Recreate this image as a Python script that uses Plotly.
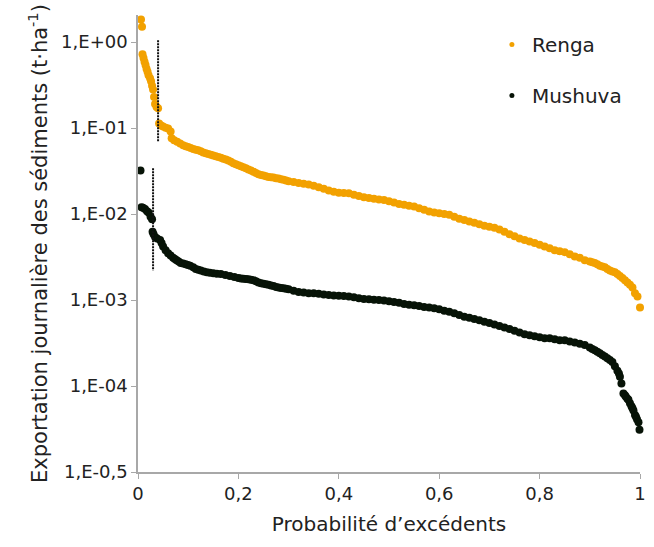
import plotly.graph_objects as go

# ---- data ----
renga_p = [0.006, 0.008, 0.009, 0.011, 0.013, 0.015, 0.017, 0.019, 0.021, 0.024,
           0.026, 0.028, 0.030, 0.032, 0.034, 0.037, 0.040, 0.042, 0.046, 0.050,
           0.055, 0.060, 0.065, 0.067, 0.072, 0.078, 0.084, 0.09, 0.095, 0.10,
           0.105, 0.11, 0.115, 0.12, 0.125, 0.13, 0.135, 0.14, 0.145, 0.15,
           0.155, 0.16, 0.165, 0.17, 0.175, 0.18, 0.185, 0.19, 0.195, 0.20,
           0.205, 0.21, 0.215, 0.22, 0.225, 0.23, 0.235, 0.24, 0.245, 0.25,
           0.255, 0.26, 0.265, 0.27, 0.275, 0.28, 0.285, 0.29, 0.295, 0.30,
           0.31, 0.32, 0.33, 0.34, 0.35, 0.36, 0.37, 0.38, 0.39, 0.40,
           0.41, 0.42, 0.43, 0.44, 0.45, 0.46, 0.47, 0.48, 0.49, 0.50,
           0.51, 0.52, 0.53, 0.54, 0.55, 0.56, 0.57, 0.58, 0.59, 0.60,
           0.61, 0.62, 0.63, 0.64, 0.65, 0.66, 0.67, 0.68, 0.69, 0.70,
           0.71, 0.72, 0.73, 0.74, 0.75, 0.76, 0.77, 0.78, 0.79, 0.80,
           0.81, 0.82, 0.83, 0.84, 0.85, 0.86, 0.87, 0.88, 0.89, 0.90,
           0.905, 0.91, 0.915, 0.92, 0.925, 0.93, 0.935, 0.94, 0.945, 0.95,
           0.955, 0.96, 0.965, 0.97, 0.975, 0.98, 0.985, 0.99, 0.995, 1.0]
renga_v = [1.83, 1.5, 0.72, 0.65, 0.59, 0.54, 0.49, 0.45, 0.41, 0.38,
           0.35, 0.31, 0.28, 0.23, 0.19, 0.175, 0.17, 0.113, 0.107, 0.104,
           0.101, 0.099, 0.091, 0.076, 0.072, 0.069, 0.066, 0.063, 0.0615, 0.060,
           0.0585, 0.057, 0.056, 0.055, 0.0535, 0.052, 0.051, 0.050, 0.049, 0.048,
           0.047, 0.046, 0.045, 0.044, 0.043, 0.042, 0.0405, 0.039, 0.038, 0.037,
           0.036, 0.035, 0.034, 0.033, 0.032, 0.031, 0.030, 0.029, 0.0285, 0.028,
           0.0275, 0.027, 0.0267, 0.0265, 0.0261, 0.0258, 0.0254, 0.025, 0.0245, 0.024,
           0.0235, 0.023, 0.0225, 0.022, 0.0213, 0.0205, 0.0196, 0.0188, 0.0182, 0.0177,
           0.0176, 0.0174, 0.0168, 0.0162, 0.0157, 0.0153, 0.0150, 0.0147, 0.0145, 0.0141,
           0.0136, 0.0131, 0.0128, 0.0125, 0.0122, 0.0117, 0.0112, 0.0107, 0.0104, 0.0102,
           0.0100, 0.0098, 0.0093, 0.0088, 0.0085, 0.0082, 0.0079, 0.0076, 0.0073, 0.0071,
           0.0069, 0.0066, 0.0062, 0.0058, 0.0055, 0.0052, 0.0050, 0.0048, 0.0046, 0.0044,
           0.0042, 0.0040, 0.0038, 0.0037, 0.0036, 0.0034, 0.0032, 0.0031, 0.0029, 0.0028,
           0.00275, 0.0027, 0.0026, 0.0025, 0.00245, 0.0024, 0.0023, 0.0022, 0.00215, 0.0021,
           0.0020, 0.0019, 0.0018, 0.0017, 0.0016, 0.0015, 0.0014, 0.0012, 0.0011, 0.00082]

mushuva_p = [0.005, 0.007, 0.010, 0.014, 0.018, 0.021, 0.025, 0.028, 0.029, 0.031,
             0.034, 0.038, 0.044, 0.047, 0.050, 0.055, 0.060, 0.065, 0.070, 0.0735,
             0.077, 0.081, 0.085, 0.09, 0.095, 0.0995, 0.104, 0.11, 0.115, 0.12,
             0.125, 0.131, 0.137, 0.143, 0.15, 0.157, 0.165, 0.174, 0.183, 0.192,
             0.20, 0.205, 0.21, 0.215, 0.22, 0.225, 0.23, 0.235, 0.24, 0.245,
             0.25, 0.255, 0.26, 0.265, 0.27, 0.275, 0.28, 0.285, 0.29, 0.295,
             0.30, 0.31, 0.32, 0.33, 0.34, 0.35, 0.36, 0.37, 0.38, 0.39,
             0.40, 0.41, 0.42, 0.43, 0.44, 0.45, 0.46, 0.47, 0.48, 0.49,
             0.50, 0.51, 0.52, 0.53, 0.54, 0.55, 0.56, 0.57, 0.58, 0.59,
             0.60, 0.61, 0.62, 0.63, 0.64, 0.65, 0.66, 0.67, 0.68, 0.69,
             0.70, 0.71, 0.72, 0.73, 0.74, 0.75, 0.76, 0.77, 0.78, 0.79,
             0.80, 0.81, 0.82, 0.83, 0.84, 0.85, 0.86, 0.87, 0.88, 0.89,
             0.90, 0.905, 0.91, 0.915, 0.92, 0.925, 0.93, 0.935, 0.94, 0.945,
             0.95, 0.955, 0.958, 0.96, 0.963, 0.967, 0.970, 0.972, 0.975, 0.977,
             0.98, 0.983, 0.985, 0.987, 0.990, 0.992, 0.994, 0.997, 0.999]
mushuva_v = [0.032, 0.012, 0.0118, 0.0114, 0.0108, 0.0104, 0.0093, 0.0087, 0.0062, 0.0058,
             0.0054, 0.0052, 0.0050, 0.0046, 0.0042, 0.0038, 0.0035, 0.0033, 0.0031, 0.0030,
             0.0029, 0.0028, 0.0027, 0.00265, 0.0026, 0.00255, 0.0025, 0.0024, 0.0023, 0.00225,
             0.0022, 0.00215, 0.0021, 0.00207, 0.00205, 0.00202, 0.0020, 0.00195, 0.0019, 0.00185,
             0.0018, 0.00178, 0.00177, 0.00175, 0.00174, 0.00172, 0.0017, 0.00165, 0.0016, 0.00157,
             0.00155, 0.00152, 0.0015, 0.00147, 0.00145, 0.00142, 0.0014, 0.00138, 0.00137, 0.00135,
             0.00133, 0.00128, 0.00124, 0.00122, 0.0012, 0.0012, 0.00118, 0.00116, 0.00114, 0.00113,
             0.00112, 0.00111, 0.0011, 0.00108, 0.00105, 0.00103, 0.00102, 0.00101, 0.0010, 0.00099,
             0.00097, 0.00095, 0.00093, 0.0009, 0.00088, 0.00087, 0.00085, 0.00083, 0.00082, 0.0008,
             0.00078, 0.00075, 0.00073, 0.0007, 0.00067, 0.00064, 0.00062, 0.0006, 0.00058, 0.00056,
             0.00054, 0.00052, 0.0005, 0.00048, 0.00046, 0.00044, 0.00042, 0.0004, 0.00039, 0.00038,
             0.00037, 0.00036, 0.00036, 0.00035, 0.00034, 0.00034, 0.00033, 0.00032, 0.00031, 0.0003,
             0.00028, 0.00027, 0.00026, 0.00025, 0.00024, 0.00023, 0.00022, 0.00021, 0.0002, 0.00019,
             0.00017, 0.00015, 0.00014, 0.000128, 0.000107, 0.000082, 0.000078, 0.000075, 0.000071, 0.000069,
             0.000063, 0.000058, 0.000055, 0.000052, 0.000046, 0.000044, 0.000041, 0.000038, 0.000031]

# threshold markers (vertical dotted lines)
renga_cut_p = [0.04, 0.04]
renga_cut_v = [1.05, 0.069]
mushuva_cut_p = [0.03, 0.03]
mushuva_cut_v = [0.034, 0.0022]

y_tickvals = [1e-5, 1e-4, 1e-3, 1e-2, 1e-1, 1]
y_ticktext = ["1,E-0,5", "1,E-04", "1,E-03", "1,E-02", "1,E-01", "1,E+00"]
x_tickvals = [0, 0.2, 0.4, 0.6, 0.8, 1]
x_ticktext = ["0", "0,2", "0,4", "0,6", "0,8", "1"]

ORANGE = "#F2A100"
DARK = "#071307"
FONT = "DejaVu Sans"

fig = go.Figure()
fig.add_trace(go.Scatter(x=renga_p, y=renga_v, mode="markers", showlegend=False,
                         marker=dict(color=ORANGE, size=8), cliponaxis=False))
fig.add_trace(go.Scatter(x=mushuva_p, y=mushuva_v, mode="markers", showlegend=False,
                         marker=dict(color=DARK, size=8), cliponaxis=False))
fig.add_trace(go.Scatter(x=renga_cut_p, y=renga_cut_v, mode="lines", showlegend=False,
                         line=dict(color="#111111", width=2, dash="2px,1px")))
fig.add_trace(go.Scatter(x=mushuva_cut_p, y=mushuva_cut_v, mode="lines", showlegend=False,
                         line=dict(color="#111111", width=2, dash="2px,1px")))
# legend entries
fig.add_trace(go.Scatter(x=[None], y=[None], mode="markers", name="Renga",
                         legendgroup="r", marker=dict(color=ORANGE, size=5)))
fig.add_trace(go.Scatter(x=[None], y=[None], mode="markers", name="Mushuva",
                         legendgroup="m", marker=dict(color=DARK, size=5)))

fig.update_layout(
    width=654, height=547,
    margin=dict(l=138, r=8, t=15, b=75),
    paper_bgcolor="white", plot_bgcolor="white",
    font=dict(family=FONT, size=18, color="#222222"),
    legend=dict(x=0.705, y=0.978, xanchor="left", yanchor="top",
                font=dict(size=20, color="#222222"), traceorder="grouped",
                tracegroupgap=22, bgcolor="rgba(0,0,0,0)"),
    xaxis=dict(range=[0, 1], tickvals=x_tickvals, ticktext=x_ticktext,
               showgrid=False, zeroline=False, showline=True, linecolor="#a8a8a8",
               linewidth=1.5, ticks="outside", ticklen=5, tickcolor="#a8a8a8",
               tickfont=dict(size=18),
               title=dict(text="Probabilité d’excédents", font=dict(size=20), standoff=14)),
    yaxis=dict(type="log", range=[-5, 0.314], tickvals=y_tickvals, ticktext=y_ticktext,
               showgrid=False, zeroline=False, showline=True, linecolor="#a8a8a8",
               linewidth=1.5, ticks="outside", ticklen=5, tickcolor="#a8a8a8",
               tickfont=dict(size=18),
               title=dict(text="Exportation journalière des sédiments (t·ha<sup>-1</sup>)",
                          font=dict(size=21), standoff=8)),
)

fig.write_html("out.html")
